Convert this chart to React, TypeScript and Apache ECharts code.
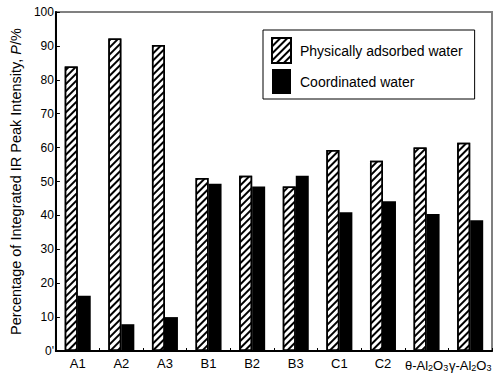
import React, { useEffect, useRef } from "react";
import * as echarts from "echarts";

const categories = ["A1", "A2", "A3", "B1", "B2", "B3", "C1", "C2", "θ-Al2O3", "γ-Al2O3"];
const physicallyAdsorbed = [83.9, 92.2, 90.3, 51.0, 51.7, 48.5, 59.3, 56.1, 60.0, 61.4];
const coordinated = [16.3, 7.9, 10.0, 49.3, 48.5, 51.7, 40.9, 44.2, 40.4, 38.6];
const seriesNames = ["Physically adsorbed water", "Coordinated water"];
const yTicks = [0, 10, 20, 30, 40, 50, 60, 70, 80, 90, 100];

const FONT = "'Liberation Sans', Arial, Helvetica, sans-serif";

export default function App() {
  const ref = useRef<HTMLDivElement>(null);
  useEffect(() => {
    if (!ref.current) return;
    const chart = echarts.init(ref.current, undefined, { renderer: "svg" });
    const hatch = {
      symbol: "rect",
      symbolSize: 1,
      dashArrayX: [1, 0],
      dashArrayY: [2, 3],
      rotation: -Math.PI / 4,
      color: "#000",
      backgroundColor: "#fff",
    };
    chart.setOption({
      animation: false,
      textStyle: { fontFamily: FONT },
      grid: {
        left: 50,
        right: 9,
        top: 12,
        bottom: 31,
        show: true,
        borderColor: "#808080",
        borderWidth: 2,
        backgroundColor: "#fff",
      },
      legend: {
        orient: "vertical",
        left: 263,
        top: 30,
        padding: [7, 12, 5, 8],
        icon: "rect",
        itemWidth: 19,
        itemHeight: 25,
        itemGap: 5,
        borderColor: "#000",
        borderWidth: 1,
        backgroundColor: "#fff",
        textStyle: { fontSize: 14, color: "#000", fontFamily: FONT, padding: [0, 0, 0, 4] },
        data: seriesNames,
      },
      xAxis: {
        type: "category",
        data: categories,
        boundaryGap: true,
        axisLine: { lineStyle: { color: "#000", width: 2 } },
        axisTick: { show: true, inside: true, length: 3, lineStyle: { color: "#000" } },
        axisLabel: {
          interval: 0,
          margin: 6,
          color: "#000",
          fontSize: 13,
          fontFamily: FONT,
          formatter: (v: string) => {
            const m = v.match(/^(.*)Al2O3$/);
            if (m) return `{n|${m[1]}Al}{s|2}{n|O}{s|3}`;
            return v;
          },
          rich: {
            n: { fontSize: 13, color: "#000", fontFamily: FONT, lineHeight: 16 },
            s: { fontSize: 9, color: "#000", fontFamily: FONT, padding: [5, 0, 0, 0], lineHeight: 16 },
          },
        },
      },
      yAxis: {
        type: "value",
        min: 0,
        max: 100,
        interval: 10,
        name: "Percentage of Integrated IR Peak Intensity, {i|P}/%",
        nameLocation: "middle",
        nameGap: 28,
        nameRotate: 90,
        nameTextStyle: {
          fontSize: 14.5,
          color: "#000",
          fontFamily: FONT,
          rich: { i: { fontSize: 14.5, fontStyle: "italic", color: "#000", fontFamily: FONT } },
        },
        axisLine: { show: true, lineStyle: { color: "#000", width: 2 } },
        axisTick: { show: true, inside: true, length: 4, lineStyle: { color: "#000" } },
        splitLine: { show: false },
        axisLabel: {
          margin: 2,
          color: "#000",
          fontSize: 12,
          fontFamily: FONT,
          formatter: (v: number) => (yTicks.includes(v) ? (v === 0 ? "0'" : String(v)) : ""),
        },
      },
      series: [
        {
          name: seriesNames[0],
          type: "bar",
          data: physicallyAdsorbed,
          barWidth: 13,
          barGap: "0%",
          itemStyle: { color: "#fff", borderColor: "#000", borderWidth: 1.5, decal: hatch },
        },
        {
          name: seriesNames[1],
          type: "bar",
          data: coordinated,
          barWidth: 13,
          barGap: "0%",
          itemStyle: { color: "#000", borderColor: "#000", borderWidth: 0 },
        },
      ],
    });
    return () => chart.dispose();
  }, []);
  return (
    <div
      ref={ref}
      style={{ position: "fixed", left: 0, top: 0, width: 501, height: 382, background: "#fff" }}
    />
  );
}
